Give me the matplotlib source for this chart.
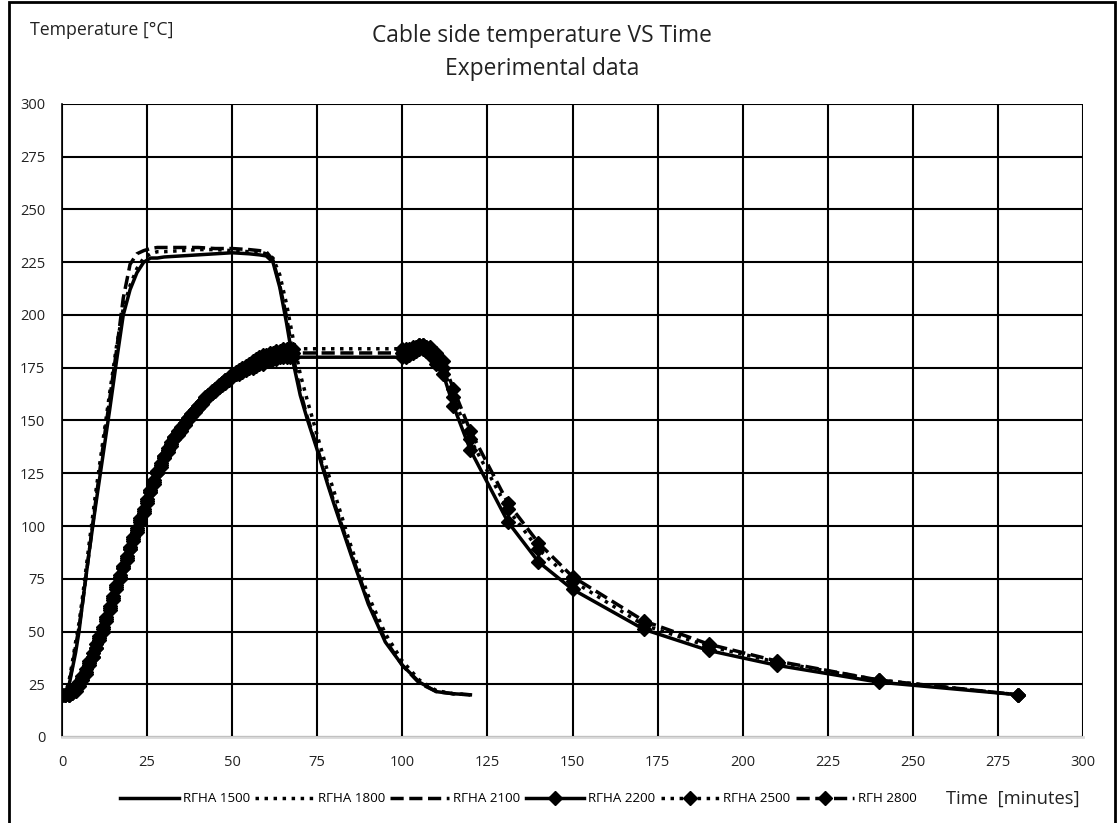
import matplotlib
matplotlib.use('Agg')
import matplotlib.pyplot as plt
from matplotlib.patches import Rectangle
from matplotlib.ticker import MultipleLocator

plt.rcParams['font.family'] = ['Open Sans', 'DejaVu Sans']

# group 1 (no markers)
t_a = [0, 1, 2, 3, 4, 5, 6, 8, 10, 12, 14, 16, 18, 20, 22, 24, 26, 28, 30, 35, 40, 45,
       50, 55, 58, 60, 62, 64, 66, 68, 70, 72, 75, 78, 80, 85, 90, 95, 100, 105, 110, 115, 120]
rgha_1500 = [20, 20, 24, 32, 40, 50, 63, 88, 111, 133, 155, 178, 200, 212, 220, 225, 227, 227, 227.5, 228, 228.5, 229,
             229.5, 229, 228.5, 228, 225, 213, 196, 177, 162, 151, 136, 120, 110, 86, 63, 45, 34, 26, 21.5, 20.5, 20]
rgha_1800 = [20, 21, 26, 35, 45, 54, 66, 92, 117, 140, 163, 185, 203, 214, 222, 227, 229, 230, 230, 230.5, 231, 231,
             230.5, 230, 230, 229, 227, 219, 205, 188, 172, 160, 143, 126, 116, 90, 67, 49, 36, 27, 22, 20.5, 20]
rgha_2100 = [20, 21, 25, 33, 43, 52, 63, 88, 113, 137, 160, 183, 208, 224, 229, 230.5, 231.5, 232, 232, 232, 232, 231.5,
             231.5, 231, 230.5, 230, 226, 214, 199, 180, 164, 152, 137, 121, 111, 87, 64, 46, 34, 25.5, 21.5, 20.5, 20]

# group 2 (diamond markers)
t_b = list(range(0, 69)) + [100, 101, 102, 103, 104, 105, 106, 107, 108, 110, 112, 115, 120,
                            131, 140, 150, 171, 190, 210, 240, 281]
rgha_2200 = [20, 20, 20, 21, 23, 25, 28, 31, 35, 38, 42, 46, 50, 55, 60, 65, 70, 75, 80, 84,
             89, 93, 97, 102, 106, 111, 116, 120, 125, 128, 132, 135, 138, 141, 143, 145, 148, 150, 152, 154,
             156, 158, 160, 161, 163, 164, 166, 167, 168, 169, 171, 172, 172, 173, 174, 175, 175, 176, 177, 177,
             178, 178, 179, 179, 180, 180, 180, 180, 180,
             180, 180, 181, 182, 183, 184, 184, 183, 181, 177, 172, 157, 136,
             102, 83, 70, 51, 41, 34, 26, 20]
rgha_2500 = [20, 20, 21, 22, 24, 26, 29, 32, 36, 40, 44, 48, 52, 57, 62, 67, 72, 77, 81, 86,
             90, 95, 99, 104, 108, 113, 117, 122, 126, 130, 133, 137, 140, 142, 145, 147, 149, 151, 153, 155,
             157, 159, 161, 162, 164, 165, 167, 168, 169, 170, 172, 173, 174, 175, 176, 177, 178, 179, 180, 181,
             181, 182, 182, 183, 183, 184, 184, 184, 184,
             184, 184, 184, 185, 185, 186, 186, 185, 184, 180, 175, 161, 141,
             108, 89, 74, 53, 43, 35.5, 27, 20]
rgha_2800 = [20, 20, 20, 21, 22, 24, 27, 30, 34, 38, 42, 47, 51, 56, 61, 66, 71, 76, 80, 85,
             89, 94, 98, 103, 107, 112, 116, 121, 125, 129, 133, 136, 139, 142, 144, 146, 149, 151, 153, 155,
             157, 159, 160, 162, 163, 165, 166, 168, 169, 170, 171, 172, 173, 174, 175, 176, 177, 178, 179, 180,
             180, 181, 181, 182, 182, 182, 182, 182, 182,
             182, 182, 183, 184, 185, 186, 186, 185, 185, 182, 178, 165, 145,
             111, 92, 76, 55, 44, 36, 27, 20]

series = [
    ('RΓHA 1500', t_a, rgha_1500, '-', None),
    ('RΓHA 1800', t_a, rgha_1800, (0, (1, 1.6)), None),
    ('RΓHA 2100', t_a, rgha_2100, (0, (3.8, 1.6)), None),
    ('RΓHA 2200', t_b, rgha_2200, '-', 'D'),
    ('RΓHA 2500', t_b, rgha_2500, (0, (1, 1.6)), 'D'),
    ('RΓH 2800', t_b, rgha_2800, (0, (3.8, 1.6)), 'D'),
]

fig = plt.figure(figsize=(11.18, 8.23), dpi=100)
fig.set_facecolor('white')
ax = fig.add_axes([62 / 1118, 1 - 737 / 823, (1083 - 62) / 1118, (737 - 104) / 823])

for name, t, v, ls, mk in series:
    ax.plot(t, v, color='black', linestyle=ls, linewidth=2.5, marker=mk,
            markersize=7, label=name, zorder=3)

ax.set_xlim(0, 300)
ax.set_ylim(0, 300)
ax.xaxis.set_major_locator(MultipleLocator(25))
ax.yaxis.set_major_locator(MultipleLocator(25))
ax.grid(True, color='black', linewidth=1.5)
ax.set_axisbelow(True)
ax.tick_params(length=0, labelsize=10.5, colors='#222222')
ax.tick_params(axis='x', pad=13)
ax.tick_params(axis='y', pad=12)
for s in ['top', 'right']:
    ax.spines[s].set_visible(False)
ax.spines['left'].set_color('black')
ax.spines['left'].set_linewidth(1.2)
ax.spines['bottom'].set_color('#d9d9d9')
ax.spines['bottom'].set_linewidth(2)

fig.text(542 / 1118, 1 - 36 / 823, 'Cable side temperature VS Time', ha='center', va='center',
         fontsize=16.4, color='#222222')
fig.text(542 / 1118, 1 - 69 / 823, 'Experimental data', ha='center', va='center',
         fontsize=16.4, color='#222222')
fig.text(30 / 1118, 1 - 30 / 823, 'Temperature [°C]', ha='left', va='center',
         fontsize=12.8, color='#222222')
fig.text(946 / 1118, 1 - 799 / 823, 'Time  [minutes]', ha='left', va='center',
         fontsize=13.2, color='#222222')

fig.legend(loc='center left', bbox_to_anchor=(120 / 1118, 1 - 799 / 823), ncol=6,
           frameon=False, fontsize=9.6, handlelength=4.4, handletextpad=0.3,
           columnspacing=0.4, borderaxespad=0, borderpad=0)

fig.patches.append(Rectangle((9 / 1118, -0.05), 1106 / 1118, 1.05 - 2 / 823,
                             transform=fig.transFigure, fill=False,
                             edgecolor='black', linewidth=2, clip_on=False))

fig.savefig('out.png', dpi=100)
